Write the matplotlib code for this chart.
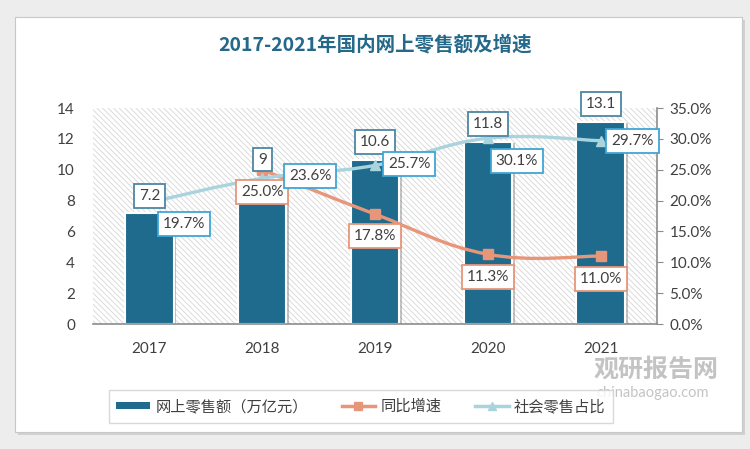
import matplotlib
matplotlib.use("Agg")
import matplotlib.pyplot as plt
import numpy as np
from matplotlib.patches import Rectangle
from matplotlib.path import Path
from matplotlib.patches import PathPatch
import matplotlib.patheffects as pe
from matplotlib.ticker import FuncFormatter, MultipleLocator
from matplotlib.lines import Line2D
from matplotlib.patches import Patch

plt.rcParams['font.family'] = ['Lato', 'Noto Sans CJK SC', 'DejaVu Sans']
plt.rcParams['hatch.linewidth'] = 0.6
plt.rcParams['hatch.color'] = '#D6D6D6'

years = ['2017', '2018', '2019', '2020', '2021']
sales = [7.2, 9, 10.6, 11.8, 13.1]            # 网上零售额（万亿元）
growth_years = ['2018', '2019', '2020', '2021']
growth = [25.0, 17.8, 11.3, 11.0]              # 同比增速 %
share = [19.7, 23.6, 25.7, 30.1, 29.7]         # 社会零售占比 %
sales_labels = ['7.2', '9', '10.6', '11.8', '13.1']

BAR = '#1F6B8E'
ORANGE = '#E8967A'
LBLUE = '#A9D3DD'
TXT = '#404040'

fig = plt.figure(figsize=(7.5, 4.49), dpi=100)
fig.patch.set_facecolor('#EDEDED')

# white card
card = Rectangle((15/750, 1-432/449), (742-15)/750, (432-17)/449, transform=fig.transFigure,
                 facecolor='white', edgecolor='#C8C8C8', linewidth=0.8, zorder=-5,
                 path_effects=[pe.SimplePatchShadow(offset=(2, -2), shadow_rgbFace='#BFBFBF', alpha=0.6), pe.Normal()])
fig.patches.append(card)

fig.text(0.5, 1-45/449, '2017-2021年国内网上零售额及增速', ha='center', va='center',
         fontsize=14, color='#24688A', fontweight='bold', family=['Noto Sans CJK SC', 'DejaVu Sans'])

ax = fig.add_axes([93/750, 1-324/449, (657-93)/750, (324-108)/449])
ax.set_facecolor('white')
ax.patch.set_hatch('\\\\\\\\\\\\')
ax.patch.set_edgecolor('#D6D6D6')
ax.patch.set_linewidth(0)

x = np.arange(len(years))
bars = ax.bar(x, sales, width=0.43, color=BAR, edgecolor='white', linewidth=1.5, zorder=2)
for b in bars:
    b.set_path_effects([pe.SimplePatchShadow(offset=(2, -1), shadow_rgbFace='#888888', alpha=0.5), pe.Normal()])

ax.set_xlim(-0.5, len(years) - 0.5)
ax.set_ylim(0, 14)
ax.yaxis.set_major_locator(MultipleLocator(2))
ax.set_xticks(x)
ax.set_xticklabels(years)
ax.tick_params(axis='x', length=0, pad=13, labelsize=11, colors=TXT)
ax.tick_params(axis='y', length=0, pad=13, labelsize=11, colors=TXT)
for s in ['top', 'left', 'right']:
    ax.spines[s].set_visible(False)
ax.spines['bottom'].set_color('#8C8C8C')
ax.spines['bottom'].set_linewidth(1.2)

ax2 = ax.twinx()
ax2.set_ylim(0, 35)
ax2.yaxis.set_major_locator(MultipleLocator(5))
ax2.yaxis.set_major_formatter(FuncFormatter(lambda v, p: f'{v:.1f}%'))
ax2.tick_params(axis='y', length=4, direction='out', color='#8C8C8C', labelsize=11, colors=TXT, pad=5)
for s in ['top', 'left', 'bottom']:
    ax2.spines[s].set_visible(False)
ax2.spines['right'].set_color('#8C8C8C')
ax2.spines['right'].set_linewidth(1.2)


def smooth_path(xs, ys, t=0.2):
    xs = np.asarray(xs, float); ys = np.asarray(ys, float)
    verts = [(xs[0], ys[0])]
    codes = [Path.MOVETO]
    n = len(xs)
    for i in range(n - 1):
        p0 = np.array([xs[i-1], ys[i-1]]) if i > 0 else np.array([xs[i], ys[i]])
        p1 = np.array([xs[i], ys[i]])
        p2 = np.array([xs[i+1], ys[i+1]])
        p3 = np.array([xs[i+2], ys[i+2]]) if i + 2 < n else p2
        c1 = p1 + (p2 - p0) * t
        c2 = p2 - (p3 - p1) * t
        verts += [tuple(c1), tuple(c2), tuple(p2)]
        codes += [Path.CURVE4] * 3
    return Path(verts, codes)

xg = np.array([years.index(y) for y in growth_years])
ax2.add_patch(PathPatch(smooth_path(xg, growth), facecolor='none', edgecolor=ORANGE, lw=2.4, zorder=3))
ax2.plot(xg, growth, ls='none', marker='s', ms=7, color=ORANGE, zorder=4)
ax2.add_patch(PathPatch(smooth_path(x, share), facecolor='none', edgecolor=LBLUE, lw=2.4, zorder=3))
ax2.plot(x, share, ls='none', marker='^', ms=7, color=LBLUE, zorder=4)


def boxed(xv, yv, txt, ec, dx, dy, coords):
    ax2.annotate(txt, (xv, yv), xycoords=coords, xytext=(dx, dy), textcoords='offset points',
                 ha='center', va='center', fontsize=11, color=TXT, zorder=10,
                 bbox=dict(boxstyle='square,pad=0.32', facecolor='white', edgecolor=ec, linewidth=1.3))

# bar value labels
b_off = [12, 18.4, 13.3, 13, 12.7]
for i, (v, s) in enumerate(zip(sales, sales_labels)):
    boxed(i, v, s, '#4D86A3', 0, b_off[i], ax.transData)

# growth labels
g_off = [(0, -16), (0, -16), (0, -16.5), (0, -16.3)]
for (xi, v, o) in zip(xg, growth, g_off):
    boxed(xi, v, f'{v:.1f}%', ORANGE, *o, ax2.transData)

# share labels
s_off = [(25, -15.5), (34.5, 1.5), (24.5, 1), (21, -16.5), (23, 0)]
for (xi, v, o) in zip(x, share, s_off):
    boxed(xi, v, f'{v:.1f}%', '#3EA6D6', *o, ax2.transData)

# legend
handles = [Patch(facecolor=BAR, edgecolor='none'),
           Line2D([0], [0], color=ORANGE, lw=2.5, marker='s', ms=6),
           Line2D([0], [0], color=LBLUE, lw=2.5, marker='^', ms=6)]
labels = ['网上零售额（万亿元）', '同比增速', '社会零售占比']
leg = fig.legend(handles, labels, loc='center', bbox_to_anchor=(361/750, 1-406.5/449), ncol=3,
                 frameon=True, handlelength=2.2, handleheight=0.4, columnspacing=2.2,
                 handletextpad=0.35, borderpad=0.5, borderaxespad=0, fancybox=False,
                 prop={'family': ['Noto Sans CJK SC', 'DejaVu Sans'], 'size': 11})
leg.get_frame().set_edgecolor('#D0D0D0')
leg.get_frame().set_linewidth(1.0)
for t in leg.get_texts():
    t.set_color(TXT)

# watermark
fig.text(656/750, 1-370/449, '观研报告网', ha='center', va='center', fontsize=18, fontweight='bold',
         color='#B5B5B5', alpha=0.8, family=['Noto Sans CJK SC'])
fig.text(653/750, 1-393/449, 'chinabaogao.com', ha='center', va='center', fontsize=10.5,
         color='#B5B5B5', alpha=0.8)

fig.savefig('out.png', dpi=100, facecolor=fig.get_facecolor())
